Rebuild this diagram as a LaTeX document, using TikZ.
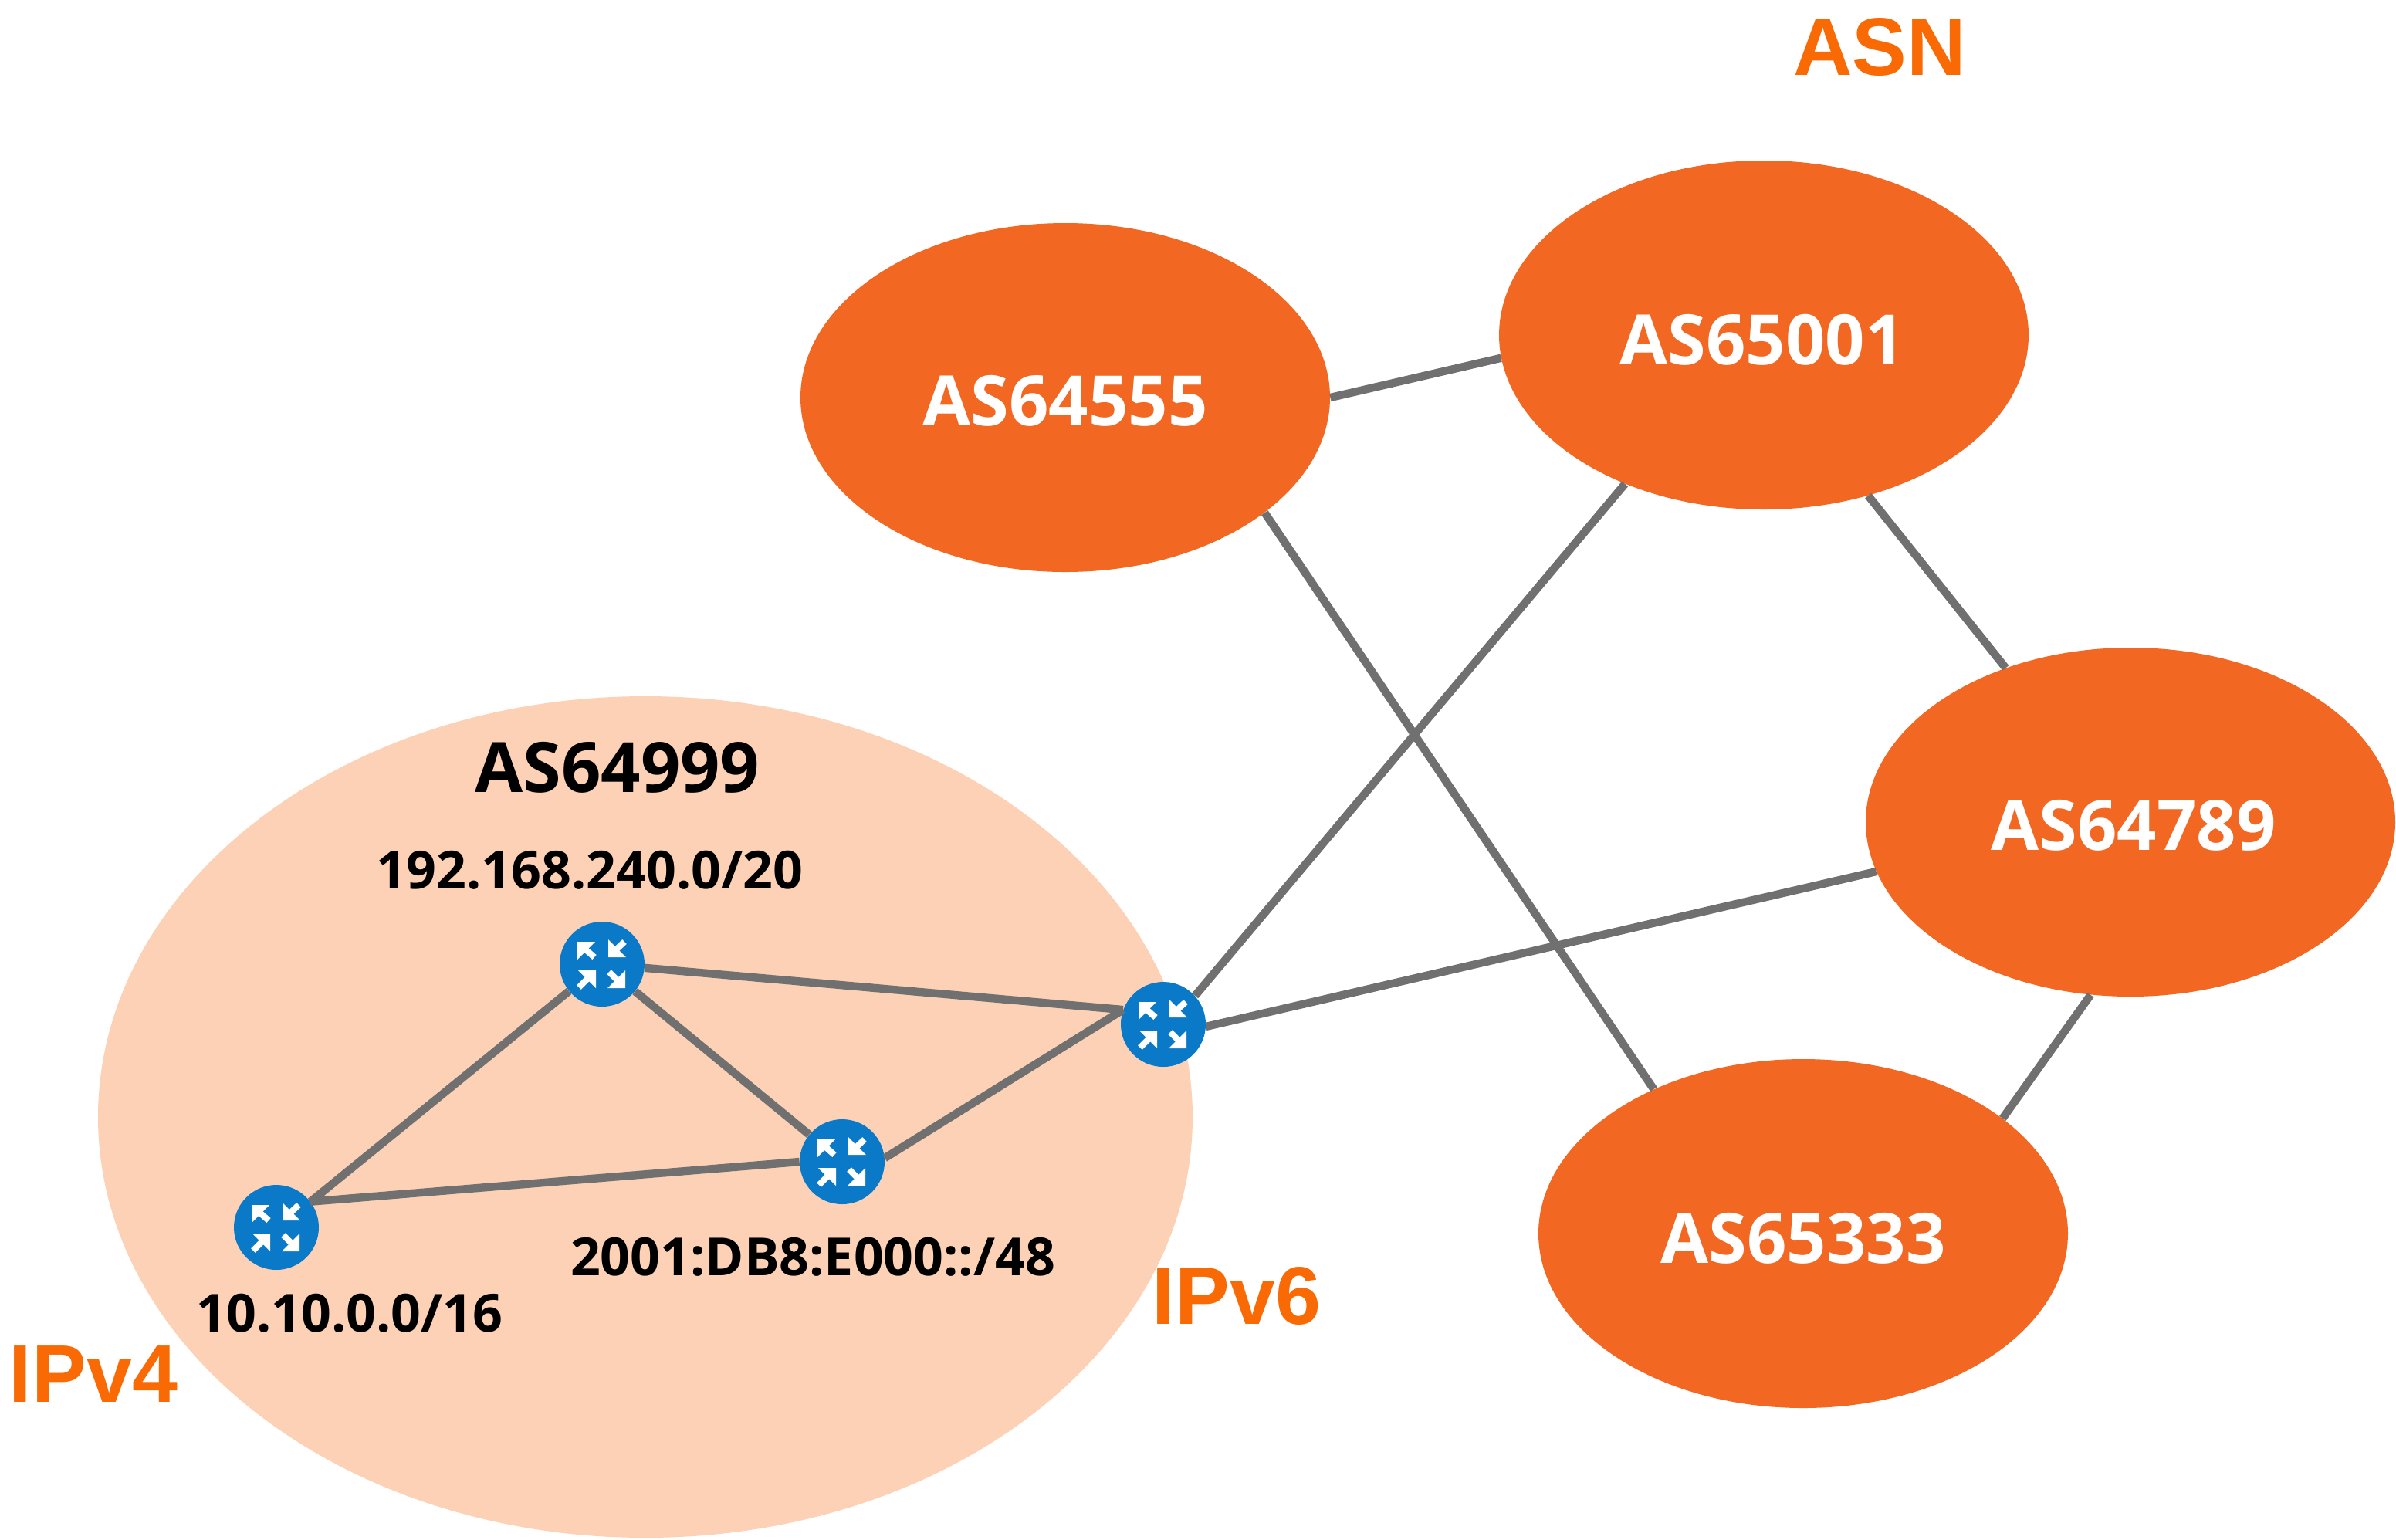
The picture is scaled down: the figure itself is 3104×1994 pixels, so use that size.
\documentclass[tikz,border=0pt]{standalone}
\usepackage{fontspec}
\setmainfont{Open Sans}
\newfontfamily\arialfont{Liberation Sans}
\usetikzlibrary{shapes.geometric}
\definecolor{asorange}{HTML}{F26722}
\definecolor{aspeach}{HTML}{FCD1B5}
\definecolor{routerblue}{HTML}{0A7AC8}
\definecolor{linkgrey}{HTML}{707070}
\definecolor{tagorange}{HTML}{F96A05}
\tikzset{
  x=0.5pt,y=-0.5pt,
  asnode/.style={ellipse,fill=asorange,inner sep=0pt,minimum width=343pt,minimum height=226pt},
  bignode/.style={ellipse,fill=aspeach,inner sep=0pt,minimum width=709pt,minimum height=545pt},
  routernode/.style={circle,fill=routerblue,inner sep=0pt,minimum size=55pt},
  link/.style={draw=linkgrey,line width=5.2pt},
  astext/.style={text=white,font=\fontsize{45}{50}\selectfont\bfseries,inner sep=0pt},
  blacktitle/.style={text=black,font=\fontsize{45}{50}\selectfont\bfseries,inner sep=0pt},
  prefixtext/.style={text=black,font=\fontsize{34}{40}\selectfont\bfseries,inner sep=0pt},
  tagtext/.style={text=tagorange,font=\arialfont\fontsize{53}{58}\selectfont\bfseries,inner sep=0pt},
  glyphshaft/.style={draw=white,line width=4pt},
  routerglyph/.pic={
    \fill[white] (-32,-29) -- (-9,-29) -- (-32,-6) -- cycle;
    \draw[glyphshaft] (-26,-23) -- (-10,-9);
    \fill[white] (8,-9) -- (31,-9) -- (8,-32) -- cycle;
    \draw[glyphshaft] (14,-15) -- (29,-29);
    \fill[white] (-8,8) -- (-31,8) -- (-8,31) -- cycle;
    \draw[glyphshaft] (-14,14) -- (-30,30);
    \fill[white] (30,31) -- (7,31) -- (30,8) -- cycle;
    \draw[glyphshaft] (24,25) -- (9,10);
  }
}
\begin{document}
\begin{tikzpicture}
\path[use as bounding box] (0,0) rectangle (3104,1994);
\node[bignode] (big) at (836,1447) {};
\node[asnode] (a64555) at (1380,515) {};
\node[asnode] (a65001) at (2285,434) {};
\node[asnode] (a64789) at (2760,1065) {};
\node[asnode] (a65333) at (2336,1598) {};
\node[routernode] (r1) at (780,1249) {};
\node[routernode] (r2) at (1507,1327) {};
\node[routernode] (r3) at (1091,1505) {};
\node[routernode] (r4) at (358,1590) {};
\foreach \n in {r1,r2,r3,r4} \pic at (\n) {routerglyph};
\path[link] (a64555.0) -- (a65001.185);
\path[link] (a64555.-30) -- (a65333.136.5);
\path[link] (a65001.227.5) -- (r2.42);
\path[link] (a65001.-57) -- (a64789.129);
\path[link] (a64789.191) -- (r2.-3);
\path[link] (a64789.257) -- (a65333.30);
\path[link] (r1) -- (r2.160);
\path[link] (r3.5) -- (r2.160);
\path[link] (r1) -- (r3);
\path[link] (r4.37) -- (r1);
\path[link] (r4.37) -- (r3.180);
\node[astext] (t64555) at (1380,519) {AS64555};
\node[astext] (t65001) at (2283,440) {AS65001};
\node[astext] (t64789) at (2764,1069) {AS64789};
\node[astext] (t65333) at (2336,1604) {AS65333};
\node[blacktitle] (t64999) at (800,994) {AS64999};
\node[prefixtext] (p1) at (764,1127) {192.168.240.0/20};
\node[prefixtext] (p2) at (1053,1628) {2001:DB8:E000::/48};
\node[prefixtext] (p3) at (453,1701) {10.10.0.0/16};
\node[tagtext] (tasn) at (2435,61) {ASN};
\node[tagtext] (tv4) at (121,1780) {IPv4};
\node[tagtext] (tv6) at (1602,1679) {IPv6};
\end{tikzpicture}
\end{document}
